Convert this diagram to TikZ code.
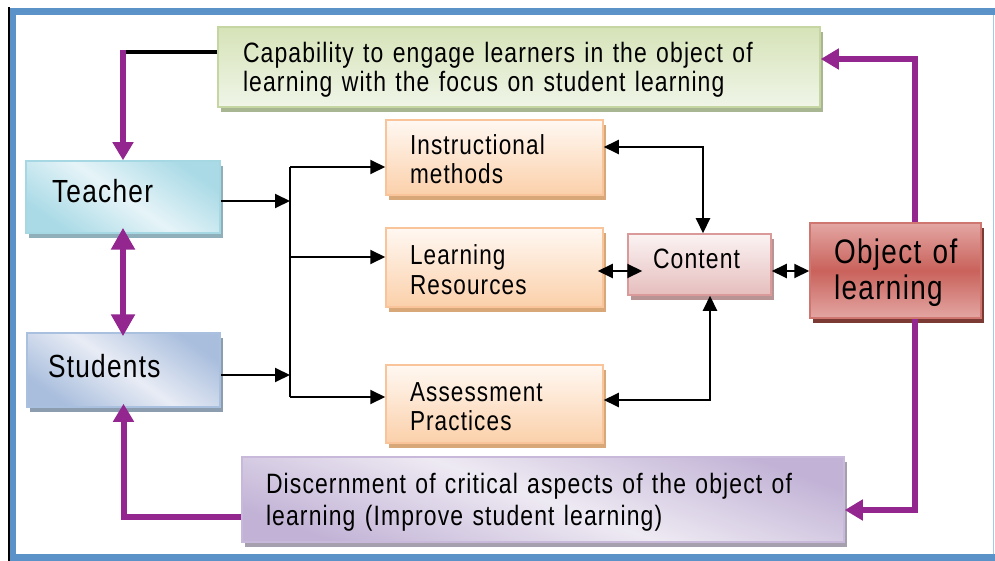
\documentclass[tikz,border=0pt]{standalone}
\usepackage{fontspec}
\setmainfont{Liberation Sans}[FakeStretch=0.82,LetterSpace=4]
\usetikzlibrary{arrows.meta,shadows,calc}
\definecolor{purp}{HTML}{93268F}
\definecolor{frameblue}{HTML}{5B92C7}
\definecolor{framelight}{HTML}{A8C8E8}
\definecolor{gA}{HTML}{D6E3B8}\definecolor{gB}{HTML}{F0F5E8}\definecolor{gD}{HTML}{C6D6A2}\definecolor{gS}{HTML}{A9B692}
\definecolor{tA}{HTML}{A9DAE6}\definecolor{tB}{HTML}{E6F4F8}\definecolor{tD}{HTML}{A6D8E4}\definecolor{tS}{HTML}{8FB0BA}
\definecolor{sA}{HTML}{A9BEDD}\definecolor{sB}{HTML}{E8ECF5}\definecolor{sD}{HTML}{A9C0DE}\definecolor{sS}{HTML}{8D9DB0}
\definecolor{oA}{HTML}{FFF8F2}\definecolor{oB}{HTML}{FBD0AA}\definecolor{oD}{HTML}{F9C49A}\definecolor{oS}{HTML}{D8A878}
\definecolor{cA}{HTML}{FBF3F3}\definecolor{cB}{HTML}{E6BDBD}\definecolor{cD}{HTML}{DA9A9A}\definecolor{cS}{HTML}{B89494}
\definecolor{rA}{HTML}{E4A6A3}\definecolor{rB}{HTML}{C9625B}\definecolor{rD}{HTML}{CF7670}\definecolor{rS}{HTML}{7B3A33}
\definecolor{dA}{HTML}{C2B3D6}\definecolor{dB}{HTML}{EEEAF3}\definecolor{dD}{HTML}{C8B9DA}\definecolor{dS}{HTML}{A69FAE}
\newcommand\setfs[2]{\fontsize{#1}{#2}\selectfont}
\tikzset{
  box/.style={rectangle, line width=1.5pt, align=left, inner ysep=0pt},
  shad/.style={drop shadow={shadow xshift=3pt, shadow yshift=-5pt, opacity=1, fill=#1}},
  gbox/.style={box, draw=gD, top color=gA, bottom color=gB, shad=gS},
  tbox/.style={box, draw=tD, top color=tA, bottom color=tA, middle color=tB, shading angle=-35, shad=tS},
  sbox/.style={box, draw=sD, top color=sA, bottom color=sA, middle color=sB, shading angle=-35, shad=sS},
  obox/.style={box, draw=oD, top color=oA, bottom color=oB, shad=oS,
     minimum width=217pt, inner xsep=24pt, text width=169pt, font=\setfs{27.5}{29}},
  cbox/.style={box, draw=cD, top color=cA, bottom color=cB, shad=cS},
  rbox/.style={box, draw=rD, top color=rA, bottom color=rA, middle color=rB, shad=rS},
  dbox/.style={box, draw=dD, top color=dA, bottom color=dA, middle color=dB, shading angle=-20, shad=dS},
  purpline/.style={draw=purp, line width=6pt},
  purparrow/.style={purpline, -{Triangle[length=18pt,width=20pt]}},
  blk/.style={draw=black, line width=2pt},
  blkarrow/.style={blk, -{Triangle[length=15pt,width=14pt]}},
  blkdouble/.style={blk, {Triangle[length=15pt,width=14pt]}-{Triangle[length=15pt,width=14pt]}}
}
\begin{document}
\begin{tikzpicture}[x=1pt,y=-1pt]
\useasboundingbox (0,0) rectangle (995,561);
\fill[white] (0,0) rectangle (995,561);
% frame
\fill[frameblue] (10,8) rectangle (995,15);
\fill[frameblue] (10,8) rectangle (16,554);
\fill[frameblue] (10,554) rectangle (995,561);
\fill[black] (8,7) rectangle (10,561);
\fill[framelight] (992.5,15) rectangle (994,554);

% boxes
\node[gbox, minimum width=602pt, minimum height=80pt, inner xsep=25pt, text width=552pt,
  text height=0pt, text depth=8pt, font=\setfs{28}{29}] (G) at (519,67)
  {Capability to engage learners in the object of\\learning with the focus on student learning};
\node[tbox, minimum width=194pt, minimum height=72pt, inner xsep=26pt, text width=142pt,
  text height=12pt, text depth=0pt, font=\setfs{32}{36}] (T) at (123,197) {Teacher};
\node[sbox, minimum width=193pt, minimum height=74pt, inner xsep=21pt, text width=151pt,
  text height=14pt, text depth=0pt, font=\setfs{32}{36}] (S) at (123.5,370) {Students};
\node[obox, minimum height=75pt, text height=0pt, text depth=5pt] (I) at (494.5,157.5)
  {Instructional\\methods};
\node[obox, minimum height=79pt, text height=0pt, text depth=5pt] (L) at (494.5,267.5)
  {Learning\\Resources};
\node[obox, minimum height=78pt, text height=0pt, text depth=6pt] (A) at (494.5,404)
  {Assessment\\Practices};
\node[cbox, minimum width=143pt, minimum height=61pt, inner xsep=25pt, text width=93pt,
  text height=9pt, text depth=0pt, font=\setfs{28}{30}] (C) at (699.5,264.5) {Content};
\node[rbox, minimum width=171pt, minimum height=95pt, inner xsep=24pt, text width=123pt,
  text height=0pt, text depth=15pt, font=\setfs{34}{36}] (O) at (895.5,270.5)
  {Object~of\\learning};
\node[dbox, minimum width=602pt, minimum height=85pt, inner xsep=24pt, text width=554pt,
  text height=0pt, text depth=13pt, font=\setfs{28}{32}] (D) at (543,499.5)
  {Discernment of critical aspects of the object of\\learning (Improve student learning)};

% coordinates
\coordinate (tl) at (123,52);
\coordinate (busT) at (290,167);
\coordinate (busM) at (290,257);
\coordinate (busB) at (290,397);
\coordinate (tE) at ([yshift=-4pt]T.east);
\coordinate (sE) at ([yshift=-5pt]S.east);
\coordinate (lE) at ([yshift=-3.5pt]L.east);
\coordinate (cE) at ([yshift=-6.5pt]C.east);

% black connectors
\draw[blk, line width=4pt] ([yshift=15pt]G.west) -- (tl);
\draw[blkarrow] (tE) -- (tE -| busT);
\draw[blkarrow] (sE) -- (sE -| busT);
\draw[blk] (busT) -- (busB);
\draw[blkarrow] (busT) -- (I.west |- busT);
\draw[blkarrow] (busM) -- (L.west |- busM);
\draw[blkarrow] (busB) -- (A.west |- busB);
\draw[blkdouble] ([yshift=10.5pt]I.east) -| ([xshift=3.5pt]C.north);
\draw[blkdouble, shorten <=-6pt, shorten >=-15pt] (lE) -- (lE -| C.west);
\draw[blkdouble] ([yshift=4pt]A.east) -| ([xshift=10.5pt]C.south);
\draw[blkdouble] (cE) -- (cE -| O.west);

% purple connectors
\draw[purparrow] ([yshift=2pt]tl) -- (T.north);
\draw[purpline, {Triangle[length=22pt,width=23pt]}-{Triangle[length=22pt,width=23pt]},
  shorten <=-6pt, shorten >=-4pt] (T.south) -- (T.south |- S.north);
\draw[purparrow] ([xshift=19.5pt]O.north) |- ([yshift=8pt]G.east);
\draw[purparrow] ([xshift=19.5pt]O.south) |- ([yshift=-10.5pt]D.east);
\draw[purparrow, shorten >=-4pt] ([yshift=-17.5pt]D.west) -| (S.south);
\end{tikzpicture}
\end{document}
